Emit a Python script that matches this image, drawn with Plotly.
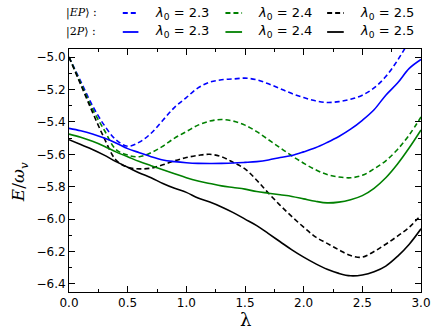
import plotly.graph_objects as go

lam = [round(0.1 * i, 1) for i in range(31)]

ep_23 = [-5.00, -5.15, -5.30, -5.42, -5.51, -5.55, -5.525, -5.47, -5.39, -5.31,
         -5.25, -5.19, -5.155, -5.14, -5.135, -5.13, -5.14, -5.165, -5.195, -5.225,
         -5.25, -5.27, -5.28, -5.275, -5.26, -5.235, -5.19, -5.12, -5.02, -4.90, -4.77]
ep_24 = [-5.00, -5.16, -5.32, -5.45, -5.57, -5.605, -5.615, -5.59, -5.55, -5.50,
         -5.46, -5.42, -5.395, -5.385, -5.395, -5.42, -5.46, -5.51, -5.56, -5.61,
         -5.655, -5.695, -5.725, -5.74, -5.745, -5.73, -5.69, -5.64, -5.57, -5.48, -5.37]
ep_25 = [-5.00, -5.17, -5.34, -5.50, -5.635, -5.68, -5.69, -5.685, -5.665, -5.64,
         -5.62, -5.607, -5.60, -5.615, -5.65, -5.69, -5.76, -5.84, -5.915, -5.985,
         -6.05, -6.11, -6.15, -6.19, -6.225, -6.235, -6.20, -6.155, -6.105, -6.05, -5.975]
p2_23 = [-5.44, -5.455, -5.475, -5.50, -5.53, -5.565, -5.59, -5.615, -5.635, -5.645,
         -5.652, -5.656, -5.657, -5.656, -5.654, -5.65, -5.645, -5.635, -5.62, -5.607,
         -5.585, -5.56, -5.527, -5.49, -5.445, -5.39, -5.325, -5.235, -5.16, -5.07, -5.015]
p2_24 = [-5.475, -5.495, -5.52, -5.55, -5.585, -5.615, -5.645, -5.67, -5.695, -5.72,
         -5.745, -5.765, -5.78, -5.795, -5.805, -5.815, -5.83, -5.84, -5.85, -5.86,
         -5.875, -5.89, -5.90, -5.895, -5.88, -5.855, -5.81, -5.745, -5.66, -5.56, -5.45]
p2_25 = [-5.51, -5.54, -5.57, -5.605, -5.645, -5.68, -5.715, -5.745, -5.78, -5.81,
         -5.835, -5.87, -5.895, -5.925, -5.96, -6.00, -6.04, -6.09, -6.14, -6.19,
         -6.235, -6.275, -6.31, -6.335, -6.35, -6.345, -6.325, -6.29, -6.23, -6.155, -6.06]

lam0_labels = ["2.3", "2.4", "2.5"]
colors = ["#0000ff", "#008000", "#000000"]
row_labels = ["|<i>EP</i>⟩ :", "|2<i>P</i>⟩ :"]
x_title = "λ"
y_title = "<i>E</i>/<i>ω<sub>v</sub></i>"

DASH = "5px,3px"

fig = go.Figure()
for ys, c, l0 in zip([ep_23, ep_24, ep_25], colors, lam0_labels):
    fig.add_trace(go.Scatter(x=lam, y=ys, mode="lines", line=dict(color=c, width=1.6, dash=DASH, shape="spline"),
                             name="EP λ0=" + l0, showlegend=False, hoverinfo="skip"))
for ys, c, l0 in zip([p2_23, p2_24, p2_25], colors, lam0_labels):
    fig.add_trace(go.Scatter(x=lam, y=ys, mode="lines", line=dict(color=c, width=1.6, shape="spline"),
                             name="2P λ0=" + l0, showlegend=False, hoverinfo="skip"))

W, H = 443, 332
L, R, T, B = 69, 14, 49, 40
pw, ph = W - L - R, H - T - B

def px2x(px):
    return (px - L) / pw

def py2y(py):
    return (H - B - py) / ph

rows_py = [13, 32]
sample_px = [(124, 140), (229, 246), (333, 350)]
text_px = [155, 260, 365]
annotations = []
shapes = []
for r, (rowy, lab) in enumerate(zip(rows_py, row_labels)):
    annotations.append(dict(xref="paper", yref="paper", x=px2x(64), y=py2y(rowy), text=lab,
                            showarrow=False, xanchor="left", yanchor="middle",
                            font=dict(family="DejaVu Serif", size=11, color="#000")))
    for (x0, x1), tx, c, l0 in zip(sample_px, text_px, colors, lam0_labels):
        shapes.append(dict(type="line", xref="paper", yref="paper", x0=px2x(x0), x1=px2x(x1),
                           y0=py2y(rowy), y1=py2y(rowy),
                           line=dict(color=c, width=1.8, dash=DASH if r == 0 else "solid")))
        annotations.append(dict(xref="paper", yref="paper", x=px2x(tx), y=py2y(rowy),
                                text="<i>λ</i><sub>0</sub> = " + l0, showarrow=False,
                                xanchor="left", yanchor="middle",
                                font=dict(family="DejaVu Sans", size=13, color="#000")))

# axis titles
annotations.append(dict(xref="paper", yref="paper", x=px2x(249), y=py2y(319), text=x_title,
                        showarrow=False, xanchor="center", yanchor="middle",
                        font=dict(family="DejaVu Serif", size=18, color="#000")))
annotations.append(dict(xref="paper", yref="paper", x=px2x(18), y=py2y(182), text=y_title,
                        showarrow=False, xanchor="center", yanchor="middle", textangle=-90,
                        font=dict(family="DejaVu Serif", size=17, color="#000")))

axis_common = dict(showgrid=False, zeroline=False, showline=True, linecolor="#000", linewidth=1,
                   mirror="allticks", ticks="inside", ticklen=6, tickwidth=1, tickcolor="#000",
                   tickfont=dict(family="DejaVu Sans", size=12, color="#000"))

fig.update_layout(
    width=W, height=H,
    margin=dict(l=L, r=R, t=T, b=B, pad=0),
    plot_bgcolor="#fff", paper_bgcolor="#fff",
    hovermode=False,
    xaxis=dict(range=[0, 3], tick0=0, dtick=0.5, tickformat=".1f",
               minor=dict(ticks="inside", ticklen=3, dtick=0.25, tickcolor="#000", showgrid=False),
               **axis_common),
    yaxis=dict(range=[-6.45, -4.95], tick0=-5.0, dtick=0.2, tickformat=".1f",
               minor=dict(ticks="inside", ticklen=3, dtick=0.1, tickcolor="#000", showgrid=False),
               **axis_common),
    annotations=annotations, shapes=shapes,
)

fig.write_html("out.html", config={"displayModeBar": False},
               post_script="document.body.style.margin='0';document.body.style.overflow='hidden';")
